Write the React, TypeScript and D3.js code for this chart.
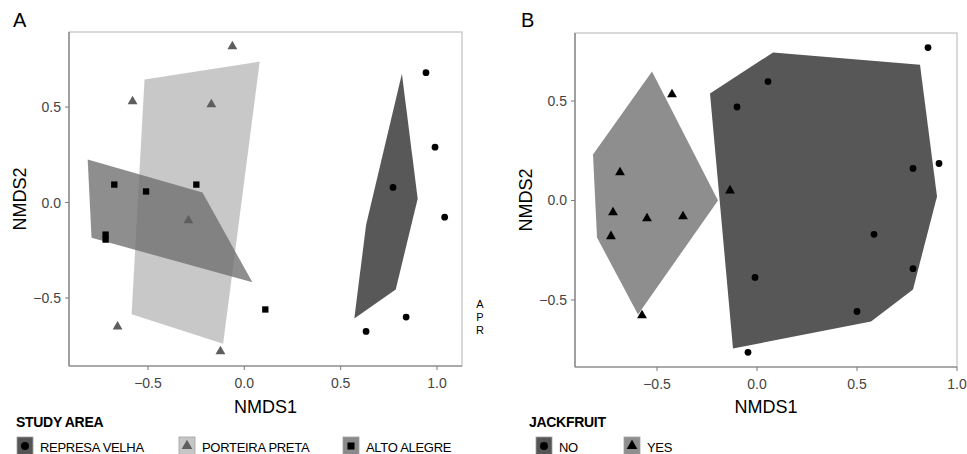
import React, { useRef, useEffect } from "react";
import * as d3 from "d3";

type Pt = [number, number];

// Panel A: study areas
const studyAreas = ["REPRESA VELHA", "PORTEIRA PRETA", "ALTO ALEGRE"];
const represaPts: Pt[] = [[0.943, 0.68], [0.99, 0.29], [0.772, 0.079], [1.04, -0.077], [0.632, -0.675], [0.84, -0.6]];
const porteiraPts: Pt[] = [[-0.062, 0.817], [-0.58, 0.53], [-0.171, 0.514], [-0.29, -0.094], [-0.658, -0.65], [-0.124, -0.78]];
const altoPts: Pt[] = [[-0.675, 0.094], [-0.51, 0.058], [-0.249, 0.094], [-0.72, -0.168], [-0.72, -0.194], [0.109, -0.56]];
const represaHull: Pt[] = [[0.818, 0.675], [0.9, 0.02], [0.786, -0.455], [0.571, -0.607], [0.632, -0.118]];
const porteiraHull: Pt[] = [[-0.518, 0.644], [0.08, 0.738], [-0.11, -0.74], [-0.585, -0.585]];
const altoHull: Pt[] = [[-0.813, 0.225], [-0.217, 0.052], [0.042, -0.418], [-0.793, -0.184]];

// Panel B: jackfruit presence
const jackfruit = ["NO", "YES"];
const noPts: Pt[] = [[0.855, 0.769], [0.055, 0.598], [-0.1, 0.47], [0.78, 0.161], [0.91, 0.186], [0.585, -0.17], [0.78, -0.343], [-0.01, -0.387], [0.5, -0.558], [-0.045, -0.763]];
const yesPts: Pt[] = [[-0.425, 0.533], [-0.685, 0.141], [-0.135, 0.05], [-0.72, -0.06], [-0.55, -0.09], [-0.37, -0.08], [-0.73, -0.18], [-0.575, -0.578]];
const noHull: Pt[] = [[-0.235, 0.538], [0.08, 0.744], [0.815, 0.683], [0.9, 0.02], [0.78, -0.447], [0.57, -0.608], [-0.12, -0.744]];
const yesHull: Pt[] = [[-0.525, 0.648], [-0.195, 0.0], [-0.595, -0.573], [-0.8, -0.186], [-0.82, 0.231]];

const xTicks = [-0.5, 0, 0.5, 1.0];
const yTicks = [-0.5, 0, 0.5];
const sideLetters = ["A", "P", "R"];

const FONT = "'Liberation Sans', Arial, sans-serif";

type Layer = { hull: Pt[]; pts: Pt[]; fill: string; opacity: number; symbol: d3.SymbolType; size: number; color: string };

const App = () => {
  const svgRef = useRef<SVGSVGElement>(null);

  useEffect(() => {
    const svg = d3.select(svgRef.current);
    svg.selectAll("*").remove();
    const fmt = d3.format(".1f");

    const drawPanel = (
      box: { left: number; top: number; right: number; bottom: number },
      xDom: [number, number],
      yDom: [number, number],
      layers: Layer[],
      tag: string,
      tagX: number
    ) => {
      const x = d3.scaleLinear().domain(xDom).range([box.left, box.right]);
      const y = d3.scaleLinear().domain(yDom).range([box.bottom, box.top]);
      const g = svg.append("g");

      g.append("rect")
        .attr("x", box.left).attr("y", box.top)
        .attr("width", box.right - box.left).attr("height", box.bottom - box.top)
        .attr("fill", "#fff").attr("stroke", "#b4b4b4").attr("stroke-width", 1);

      const line = d3.line<Pt>().x(d => x(d[0])).y(d => y(d[1]));
      layers.forEach(l => {
        g.append("path")
          .attr("d", line(l.hull) + "Z")
          .attr("fill", l.fill)
          .attr("fill-opacity", l.opacity);
      });
      layers.forEach(l => {
        g.selectAll(null)
          .data(l.pts)
          .enter()
          .append("path")
          .attr("d", d3.symbol().type(l.symbol).size(l.size)())
          .attr("transform", d => `translate(${x(d[0])},${y(d[1])})`)
          .attr("fill", l.color);
      });

      // axes
      g.append("line").attr("x1", box.left).attr("x2", box.left).attr("y1", box.top).attr("y2", box.bottom)
        .attr("stroke", "#7a7a7a").attr("stroke-width", 1.2);
      g.append("line").attr("x1", box.left).attr("x2", box.right).attr("y1", box.bottom).attr("y2", box.bottom)
        .attr("stroke", "#7a7a7a").attr("stroke-width", 1.2);

      xTicks.forEach(t => {
        g.append("line").attr("x1", x(t)).attr("x2", x(t)).attr("y1", box.bottom).attr("y2", box.bottom + 4)
          .attr("stroke", "#7a7a7a");
        g.append("text").attr("x", x(t)).attr("y", box.bottom + 22)
          .attr("text-anchor", "middle").attr("font-size", 14).attr("fill", "#444")
          .attr("font-family", FONT).text(fmt(t));
      });
      yTicks.forEach(t => {
        g.append("line").attr("x1", box.left - 4).attr("x2", box.left).attr("y1", y(t)).attr("y2", y(t))
          .attr("stroke", "#7a7a7a");
        g.append("text").attr("x", box.left - 8).attr("y", y(t) + 5)
          .attr("text-anchor", "end").attr("font-size", 14).attr("fill", "#444")
          .attr("font-family", FONT).text(fmt(t));
      });

      g.append("text").attr("x", (box.left + box.right) / 2).attr("y", 413)
        .attr("text-anchor", "middle").attr("font-size", 18).attr("font-family", FONT).text("NMDS1");
      g.append("text")
        .attr("transform", `translate(${box.left - 43},${(box.top + box.bottom) / 2}) rotate(-90)`)
        .attr("text-anchor", "middle").attr("font-size", 18).attr("font-family", FONT).text("NMDS2");
      g.append("text").attr("x", tagX).attr("y", 27).attr("font-size", 20).attr("font-family", FONT).text(tag);
    };

    const layersA: Layer[] = [
      { hull: represaHull, pts: represaPts, fill: "#292929", opacity: 0.78, symbol: d3.symbolCircle, size: 36, color: "#000" },
      { hull: porteiraHull, pts: porteiraPts, fill: "#b9b9b9", opacity: 0.78, symbol: d3.symbolTriangle, size: 42, color: "#5e5e5e" },
      { hull: altoHull, pts: altoPts, fill: "#6e6e6e", opacity: 0.78, symbol: d3.symbolSquare, size: 40, color: "#000" },
    ];
    drawPanel({ left: 69, top: 32, right: 462, bottom: 366 }, [-0.91, 1.13], [-0.856, 0.893], layersA, "A", 13);

    const layersB: Layer[] = [
      { hull: noHull, pts: noPts, fill: "#575757", opacity: 1, symbol: d3.symbolCircle, size: 36, color: "#000" },
      { hull: yesHull, pts: yesPts, fill: "#8e8e8e", opacity: 1, symbol: d3.symbolTriangle, size: 42, color: "#000" },
    ];
    drawPanel({ left: 575, top: 33, right: 957, bottom: 367 }, [-0.91, 1.0], [-0.837, 0.842], layersB, "B", 521);

    // "A P R" stacked letters between panels
    sideLetters.forEach((c, i) => {
      svg.append("text").attr("x", 480).attr("y", 308 + i * 13)
        .attr("text-anchor", "middle").attr("font-size", 11).attr("font-family", FONT).text(c);
    });

    // legends
    const legend = (
      title: string, titleX: number, items: string[], itemX: number[],
      keyFill: string[], sym: d3.SymbolType[], symColor: string[]
    ) => {
      svg.append("text").attr("x", titleX).attr("y", 427).attr("font-size", 14)
        .attr("font-weight", "bold").attr("font-family", FONT).attr("letter-spacing", -0.3).text(title);
      items.forEach((name, i) => {
        const kx = itemX[i];
        svg.append("rect").attr("x", kx).attr("y", 437).attr("width", 16).attr("height", 18)
          .attr("fill", keyFill[i]).attr("stroke", "#a0a0a0").attr("stroke-width", 0.8);
        svg.append("path").attr("d", d3.symbol().type(sym[i]).size(50)())
          .attr("transform", `translate(${kx + 8},${446})`).attr("fill", symColor[i]);
        svg.append("text").attr("x", kx + 23).attr("y", 452).attr("font-size", 13)
          .attr("font-family", FONT).attr("letter-spacing", -0.3).text(name);
      });
    };
    legend("STUDY AREA", 16, studyAreas, [17, 179, 343],
      ["#555", "#c6c6c6", "#8a8a8a"], [d3.symbolCircle, d3.symbolTriangle, d3.symbolSquare], ["#000", "#5e5e5e", "#000"]);
    legend("JACKFRUIT", 529, jackfruit, [536, 624],
      ["#555", "#8e8e8e"], [d3.symbolCircle, d3.symbolTriangle], ["#000", "#000"]);
  }, []);

  return (
    <div style={{ position: "absolute", left: 0, top: 0 }}>
      <svg ref={svgRef} width={967} height={454} style={{ display: "block", background: "#fff" }}></svg>
    </div>
  );
};

export default App;
